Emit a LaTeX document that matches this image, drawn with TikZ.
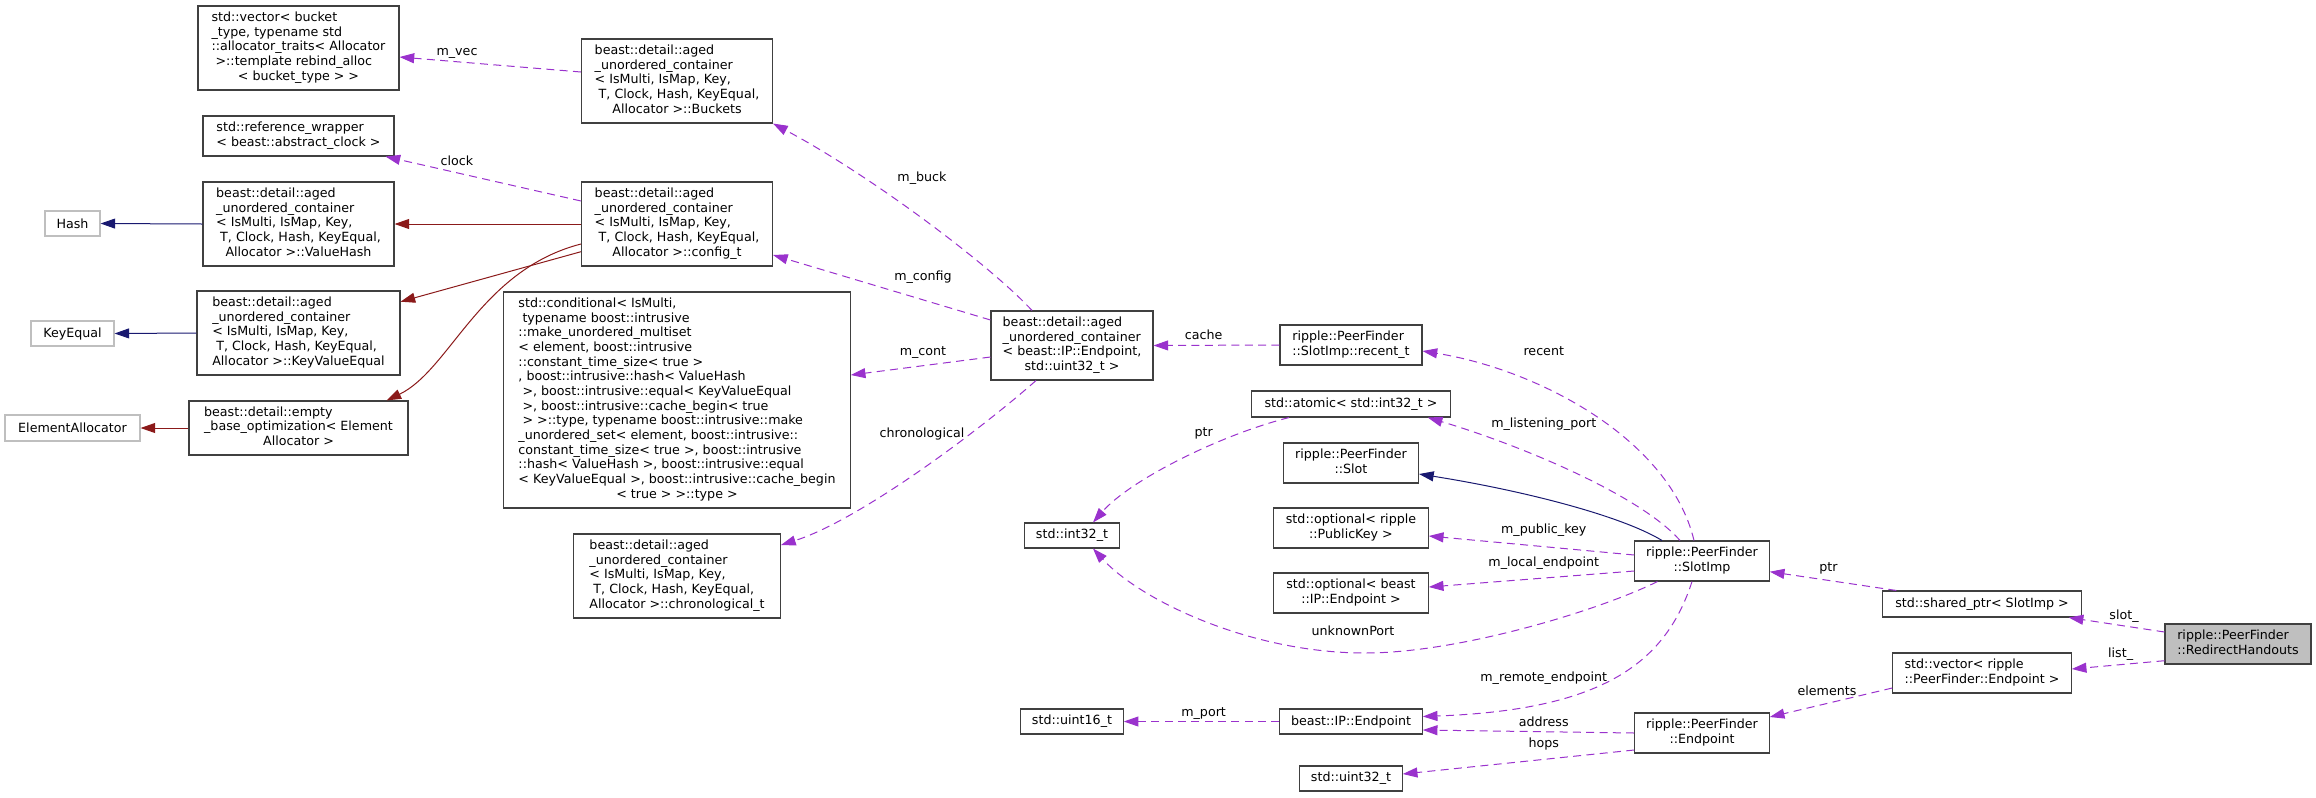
\documentclass[tikz,border=0pt]{standalone}
\usepackage{fontspec}
\setmainfont{DejaVu Sans}
\usetikzlibrary{arrows.meta,calc}
\definecolor{purp}{HTML}{9A32CD}
\definecolor{navyc}{HTML}{191970}
\definecolor{redc}{HTML}{8B1A1A}
\definecolor{boxc}{HTML}{404040}
\definecolor{grayc}{HTML}{BFBFBF}
\newcommand{\dl}[2]{\begin{tabular}{@{}l@{}}#1\\\multicolumn{1}{@{}c@{}}{#2}\end{tabular}}
\tikzset{
  box/.style 2 args={draw=boxc, line width=0.8pt, inner sep=0pt, minimum width={#1*0.75pt}, minimum height={#2*0.75pt}},
  gbox/.style 2 args={box={#1}{#2}, draw=grayc},
  tip/.style={-{Triangle[length=11pt,width=7.5pt]}},
  dep/.style={tip, draw=purp, line width=0.75pt, dash pattern=on 6pt off 4pt},
  inh/.style={tip, draw=navyc, line width=0.75pt},
  priv/.style={tip, draw=redc, line width=0.75pt},
  lbl/.style={inner sep=0pt, text height=7pt, text depth=2pt}
}
\begin{document}
\begin{tikzpicture}[x=0.75pt, y=-0.75pt, font=\fontsize{9.5}{11}\selectfont]
\useasboundingbox (0,0) rectangle (2316,797);

% column 1
\node[gbox={55}{25}] (hash) at (72.5,223.5) {Hash};
\node[gbox={83}{25}] (keq) at (72.5,333.5) {KeyEqual};
\node[gbox={135}{26}] (ealloc) at (72.5,428) {ElementAllocator};

% column 2
\node[box={201}{84}] (vecB) at (298.5,48) {\dl{std::vector< bucket\\\_type, typename std\\::allocator\_traits< Allocator\\\ >::template rebind\_alloc}{< bucket\_type > >}};
\node[box={191}{40}] (refw) at (298.5,136) {\dl{std::reference\_wrapper}{< beast::abstract\_clock >}};
\node[box={191}{84}] (valh) at (298.5,224) {\dl{beast::detail::aged\\\_unordered\_container\\< IsMulti, IsMap, Key,\\\ T, Clock, Hash, KeyEqual,}{Allocator >::ValueHash}};
\node[box={203}{84}] (kve) at (298.5,333) {\dl{beast::detail::aged\\\_unordered\_container\\< IsMulti, IsMap, Key,\\\ T, Clock, Hash, KeyEqual,}{Allocator >::KeyValueEqual}};
\node[box={219}{54}] (ebo) at (298.5,428) {\dl{beast::detail::empty\\\_base\_optimization< Element}{Allocator >}};

% column 3
\node[box={191}{84}] (buck) at (677,81) {\dl{beast::detail::aged\\\_unordered\_container\\< IsMulti, IsMap, Key,\\\ T, Clock, Hash, KeyEqual,}{Allocator >::Buckets}};
\node[box={191}{84}] (conf) at (677,224) {\dl{beast::detail::aged\\\_unordered\_container\\< IsMulti, IsMap, Key,\\\ T, Clock, Hash, KeyEqual,}{Allocator >::config\_t}};
\node[box={346.5}{216}] (cond) at (677,400) {\dl{std::conditional< IsMulti,\\\ typename boost::intrusive\\::make\_unordered\_multiset\\< element, boost::intrusive\\::constant\_time\_size< true >\\, boost::intrusive::hash< ValueHash\\\ >, boost::intrusive::equal< KeyValueEqual\\\ >, boost::intrusive::cache\_begin< true\\\ > >::type, typename boost::intrusive::make\\\_unordered\_set< element, boost::intrusive::\\constant\_time\_size< true >, boost::intrusive\\::hash< ValueHash >, boost::intrusive::equal\\< KeyValueEqual >, boost::intrusive::cache\_begin}{< true > >::type >}};
\node[box={207}{84}] (chrono) at (677,576) {\dl{beast::detail::aged\\\_unordered\_container\\< IsMulti, IsMap, Key,\\\ T, Clock, Hash, KeyEqual,}{Allocator >::chronological\_t}};

% column 4
\node[box={162}{69}] (ac) at (1072,345.5) {\dl{beast::detail::aged\\\_unordered\_container\\< beast::IP::Endpoint,}{std::uint32\_t >}};
\node[box={94.5}{25}] (i32) at (1072,535.5) {std::int32\_t};
\node[box={102.5}{25}] (u16) at (1072,721.5) {std::uint16\_t};

% column 5
\node[box={142}{40}] (recent) at (1351,345) {\dl{ripple::PeerFinder}{::SlotImp::recent\_t}};
\node[box={198.5}{26}] (atomic) at (1351,404) {std::atomic< std::int32\_t >};
\node[box={135}{40}] (slot) at (1351,463) {\dl{ripple::PeerFinder}{::Slot}};
\node[box={154.6}{40}] (optpk) at (1351,528) {\dl{std::optional< ripple}{::PublicKey >}};
\node[box={154.6}{40}] (optep) at (1351,593) {\dl{std::optional< beast}{::IP::Endpoint >}};
\node[box={142.5}{25}] (ipep) at (1351,721.5) {beast::IP::Endpoint};
\node[box={102.5}{25}] (u32) at (1351,778.5) {std::uint32\_t};

% column 6
\node[box={134.5}{40}] (slotimp) at (1702,561) {\dl{ripple::PeerFinder}{::SlotImp}};
\node[box={134.5}{40}] (pfep) at (1702,733) {\dl{ripple::PeerFinder}{::Endpoint}};

% column 7
\node[box={198.3}{26}] (shptr) at (1982,604) {std::shared\_ptr< SlotImp >};
\node[box={178.5}{40}] (vecep) at (1982,673) {\dl{std::vector< ripple}{::PeerFinder::Endpoint >}};

% column 8
\node[box={146}{40}, fill=grayc] (redir) at (2238,644) {\dl{ripple::PeerFinder}{::RedirectHandouts}};

% inheritance edges
\draw[inh] (valh.west) -- (hash.east);
\draw[inh] (kve.west) -- (keq.east);
\draw[priv] (ebo.west) -- (ealloc.east);
\draw[priv] (conf.west) -- (valh.east);
\draw[priv] ($(conf.west)+(0,27.7)$) -- ($(kve.east)+(0,-31.3)$);
\draw[priv] ($(conf.west)+(0,20)$) .. controls (480,270) and (450,370) .. ($(ebo.north)+(88,0)$);
\draw[inh] ($(slotimp.north)+(-40,0)$) .. controls (1620,515) and (1520,490) .. ($(slot.east)+(0,11)$);

% member edges
\draw[dep] ($(buck.west)+(0,-9)$) -- ($(vecB.east)+(0,9)$);
\draw[dep] ($(conf.west)+(0,-23)$) -- ($(refw.south east)+(-9,0)$);
\draw[dep] ($(ac.north)+(-40,0)$) .. controls (990,265) and (870,175) .. (buck.south east);
\draw[dep] ($(ac.west)+(0,-25.5)$) -- ($(conf.east)+(0,31)$);
\draw[dep] ($(ac.west)+(0,11.5)$) -- ($(cond.east)+(0,-25)$);
\draw[dep] ($(ac.south)+(-36,0)$) .. controls (980,430) and (860,520) .. ($(chrono.east)+(0,-31)$);
\draw[dep] (recent.west) -- (ac.east);
\draw[dep] ($(slotimp.north)+(-8,0)$) .. controls (1670,440) and (1540,370) .. ($(recent.east)+(0,6)$);
\draw[dep] ($(slotimp.north)+(-22,0)$) .. controls (1640,495) and (1520,445) .. ($(atomic.south east)+(-23,0)$);
\draw[dep] ($(atomic.south)+(-62,0)$) .. controls (1220,435) and (1130,480) .. ($(i32.north)+(21,0)$);
\draw[dep] ($(slotimp.west)+(0,-6)$) -- ($(optpk.east)+(0,8)$);
\draw[dep] ($(slotimp.west)+(0,10)$) -- ($(optep.east)+(0,-6)$);
\draw[dep] ($(slotimp.south)+(-44.5,0)$) .. controls (1600,610) and (1460,653) .. (1365,653) .. controls (1250,653) and (1140,600) .. ($(i32.south)+(21,0)$);
\draw[dep] ($(slotimp.south)+(-10,0)$) .. controls (1665,665) and (1600,710) .. ($(ipep.east)+(0,-5)$);
\draw[dep] (ipep.west) -- (u16.east);
\draw[dep] (pfep.west) -- ($(ipep.east)+(0,8.5)$);
\draw[dep] ($(pfep.west)+(0,17)$) -- ($(u32.east)+(0,-4.5)$);
\draw[dep] ($(shptr.north west)+(14,0)$) -- ($(slotimp.east)+(0,10.7)$);
\draw[dep] ($(redir.west)+(0,-12)$) -- ($(shptr.south east)+(-13,0)$);
\draw[dep] ($(redir.west)+(0,16.7)$) -- ($(vecep.east)+(0,-4)$);
\draw[dep] ($(vecep.west)+(0,15)$) -- ($(pfep.east)+(0,-16)$);

% labels
\node[lbl] (lvec) at (457,52) {m\_vec};
\node[lbl] (lclock) at (457,162) {clock};
\node[lbl] (lbuck) at (922,178) {m\_buck};
\node[lbl] (lconf) at (923,277) {m\_config};
\node[lbl] (lcont) at (923,352) {m\_cont};
\node[lbl] (lchrono) at (922,434) {chronological};
\node[lbl] (lcache) at (1203.6,336) {cache};
\node[lbl] (lrecent) at (1543.75,351.7) {recent};
\node[lbl] (llisten) at (1543.75,424) {m\_listening\_port};
\node[lbl] (lptra) at (1203.6,432.7) {ptr};
\node[lbl] (lpk) at (1543.75,530) {m\_public\_key};
\node[lbl] (llocal) at (1543.75,563) {m\_local\_endpoint};
\node[lbl] (lunk) at (1353,632) {unknownPort};
\node[lbl] (lremote) at (1543.75,678) {m\_remote\_endpoint};
\node[lbl] (lport) at (1203.6,712.7) {m\_port};
\node[lbl] (laddr) at (1543.75,723) {address};
\node[lbl] (lhops) at (1543.75,744) {hops};
\node[lbl] (lptrb) at (1828.5,567.7) {ptr};
\node[lbl] (lslot) at (2124,615.7) {slot\_};
\node[lbl] (llist) at (2120.6,654) {list\_};
\node[lbl] (lelem) at (1827,692) {elements};
\end{tikzpicture}
\end{document}
